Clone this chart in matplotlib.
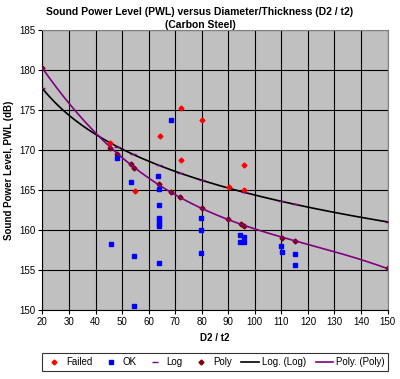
import matplotlib
matplotlib.use('Agg')
import matplotlib.pyplot as plt
import numpy as np

plt.rcParams['font.family'] = ['Liberation Sans', 'DejaVu Sans']

# Failed points
failed_x = [45.4, 54.9, 64.1, 72.1, 72.1, 80.0, 90.1, 95.9, 95.9]
failed_y = [170.9, 164.9, 171.7, 175.3, 168.7, 173.7, 165.4, 168.1, 165.0]

# OK points
ok_x = [48.0, 53.2, 63.6, 64.0, 64.0, 64.0, 64.0, 64.0, 64.0, 68.3, 45.7, 54.6, 64.0, 54.6,
        79.9, 79.9, 79.9, 94.4, 95.9, 94.4, 95.9, 110.0, 110.4, 115.1, 115.1]
ok_y = [169.0, 166.0, 166.75, 165.1, 163.1, 161.5, 161.1, 160.8, 160.5, 173.7, 158.3, 156.7, 155.9, 150.5,
        161.5, 160.0, 157.1, 159.4, 159.1, 158.5, 158.5, 158.0, 157.2, 157.0, 155.6]

# Log series (points on the log curve)
log_x = [20, 48, 54, 64, 72, 80, 96, 110, 115, 150]
log_y = [177.7, 170.4, 169.5, 168.1, 167.1, 166.2, 164.7, 163.6, 163.2, 161.0]

# Poly series
poly_x = [20, 45.4, 48.0, 53.2, 54.5, 64.0, 68.3, 71.9, 80.0, 90.0, 94.7, 95.9, 110.1, 115.1, 150]
poly_y = [180.3, 170.3, 169.5, 168.2, 167.7, 165.75, 164.8, 164.1, 162.8, 161.4, 160.75, 160.5, 159.0, 158.6, 155.2]

fig = plt.figure(figsize=(4.0, 3.79), dpi=100)
ax = fig.add_axes([0.106, 0.182, 0.863, 0.739])
ax.set_facecolor('#C0C0C0')

ax.plot(failed_x, failed_y, 'D', color='#FF0000', ms=2.5, ls='none', label='Failed', zorder=4)
ax.plot(ok_x, ok_y, 's', color='#0000FF', ms=3.3, ls='none', label='OK', zorder=4)
ax.plot(log_x, log_y, '_', color='#800080', ms=4, ls='none', label='Log', zorder=4)
ax.plot(poly_x, poly_y, 'D', color='#800000', ms=2.5, ls='none', label='Poly', zorder=2.5)

# trendlines
xs = np.linspace(20, 150, 200)
c_log = np.polyfit(np.log(log_x), log_y, 1)
ax.plot(xs, np.polyval(c_log, np.log(xs)), color='black', lw=1.2, label='Log. (Log)', zorder=3)
c_poly = np.polyfit(poly_x, poly_y, 3)
ax.plot(xs, np.polyval(c_poly, xs), color='#800080', lw=1.2, label='Poly. (Poly)', zorder=3)

ax.set_xlim(20, 150)
ax.set_ylim(150, 185)
ax.set_xticks(range(20, 151, 10))
ax.set_yticks(range(150, 186, 5))
ax.grid(True, color='black', lw=0.8)
ax.set_axisbelow(True)
for s in ax.spines.values():
    s.set_color('#808080')
ax.spines['left'].set_color('black')
ax.spines['bottom'].set_color('black')
ax.tick_params(labelsize=7, length=3, width=0.8, pad=2)

ax.set_xlabel('D2 / t2', fontsize=7, fontweight='bold', labelpad=4)
ax.set_ylabel('Sound Power Level, PWL (dB)', fontsize=7, fontweight='bold', labelpad=4)
fig.text(0.5, 0.968, 'Sound Power Level (PWL) versus Diameter/Thickness (D2 / t2)',
         ha='center', va='center', fontsize=7.5, fontweight='bold')
fig.text(0.5, 0.935, '(Carbon Steel)', ha='center', va='center', fontsize=7.5, fontweight='bold')

leg = ax.legend(loc='center', ncol=6, fontsize=7, frameon=True, fancybox=False,
                handlelength=1.8, handletextpad=0.3, columnspacing=1.0, borderpad=0.4,
                bbox_to_anchor=(0.106 + 0.863 / 2, 0.045), bbox_transform=fig.transFigure)
leg.get_frame().set_edgecolor('black')
leg.get_frame().set_linewidth(0.8)

fig.savefig('out.png', dpi=100)
